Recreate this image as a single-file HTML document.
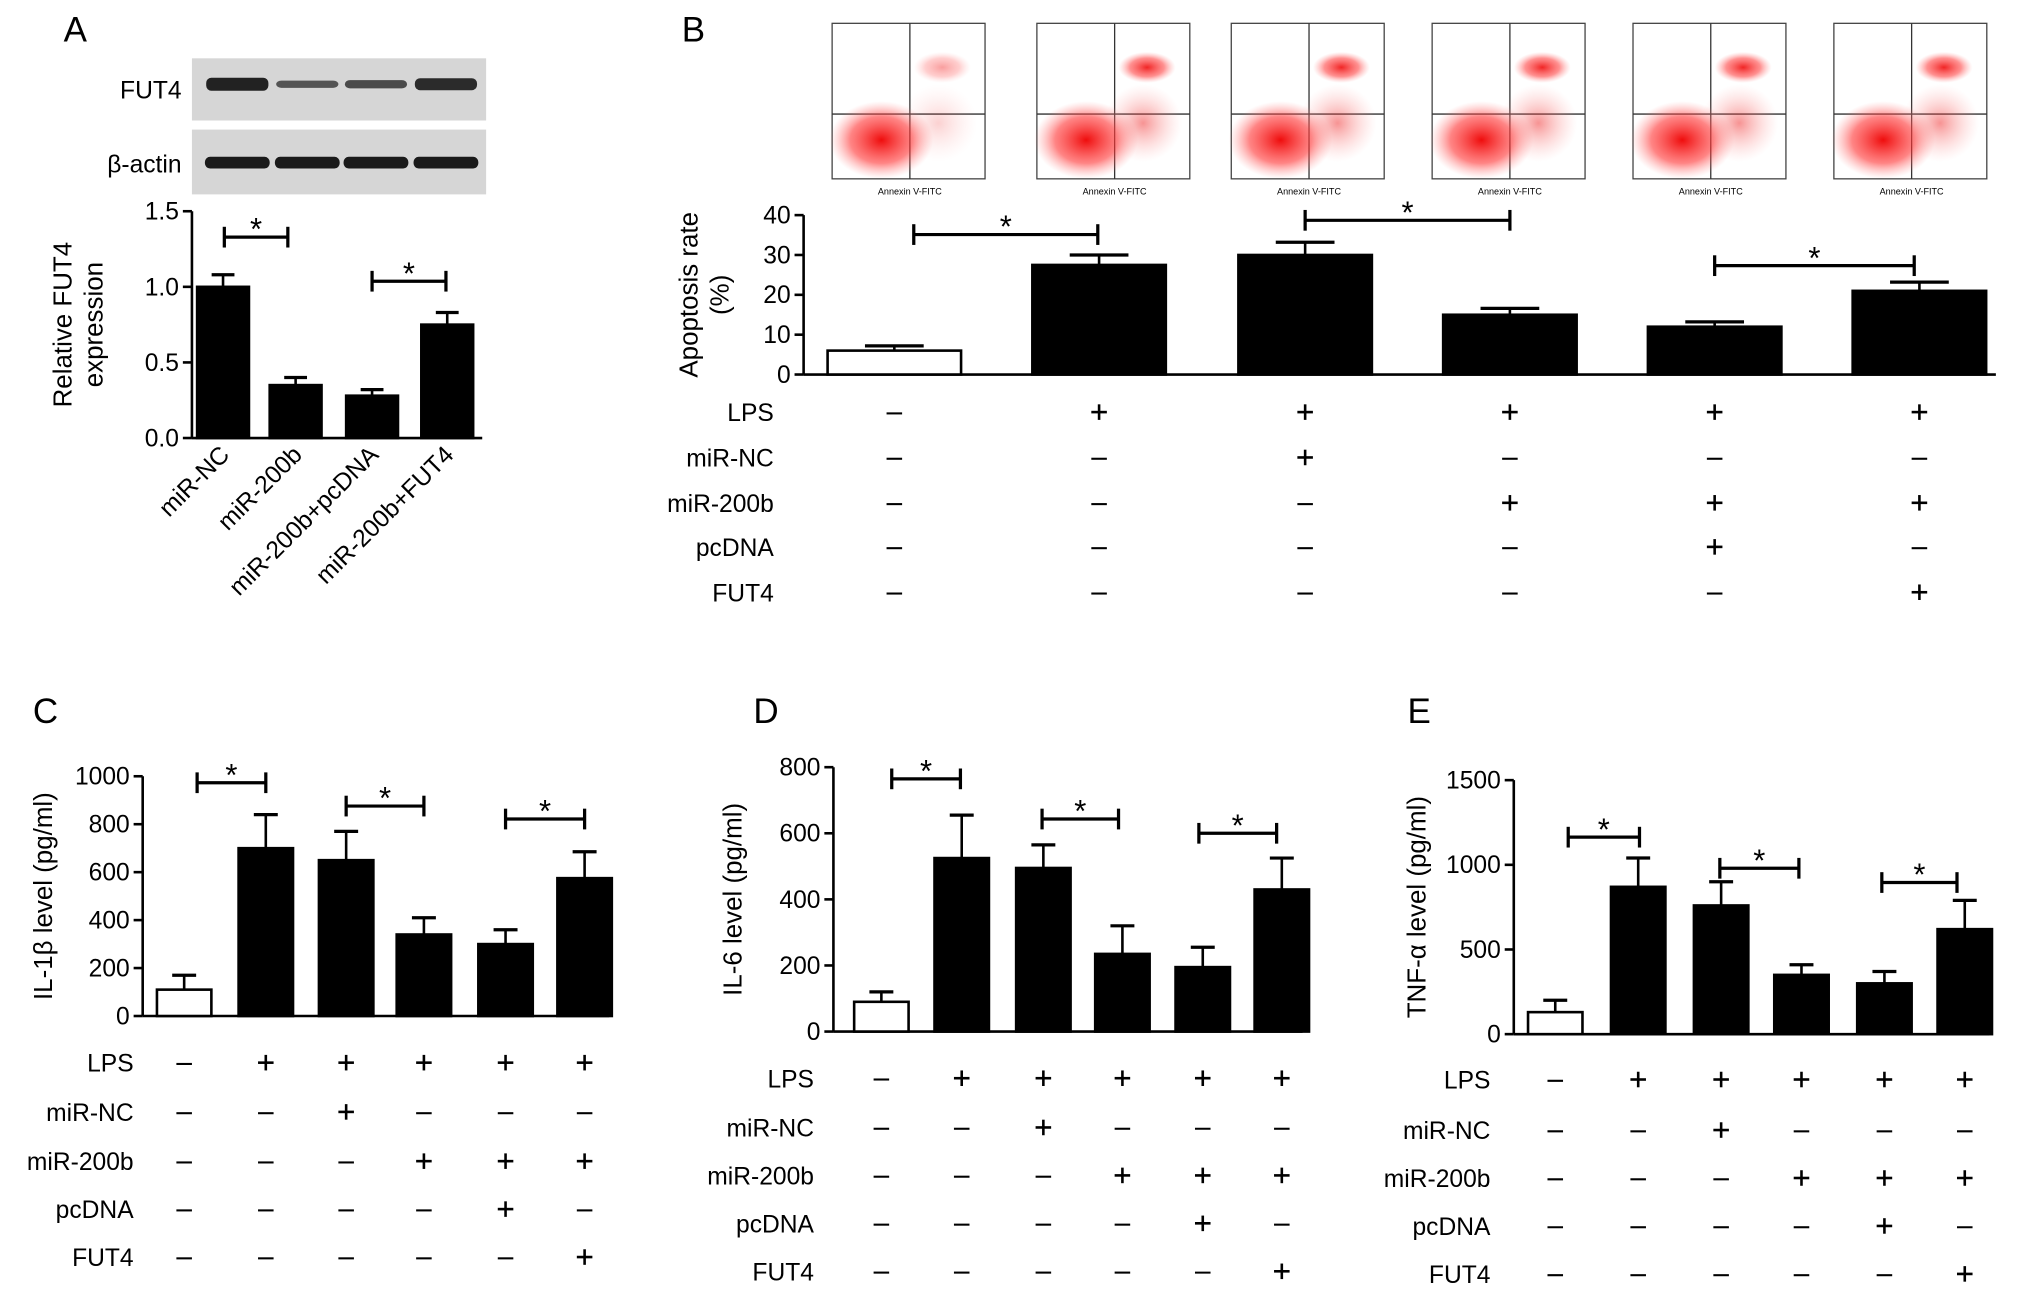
<!DOCTYPE html>
<html><head><meta charset="utf-8"><style>
html,body{margin:0;padding:0;background:#fff}
svg{display:block}
text{font-family:"Liberation Sans",sans-serif;fill:#000}
</style></head><body>
<svg id="fig" width="2031" height="1305" viewBox="0 0 1567 1007" xmlns="http://www.w3.org/2000/svg">
<defs>
<radialGradient id="blob"><stop offset="0" stop-color="#e00" stop-opacity="0.95"/><stop offset="0.6" stop-color="#f33" stop-opacity="0.6"/><stop offset="1" stop-color="#f88" stop-opacity="0"/></radialGradient>
<radialGradient id="blob2"><stop offset="0" stop-color="#e22" stop-opacity="0.7"/><stop offset="1" stop-color="#f99" stop-opacity="0"/></radialGradient>
</defs>
<g id="root"></g>
</svg>
<script>
// ---- data ----
const aCats=["miR-NC","miR-200b","miR-200b+pcDNA","miR-200b+FUT4"];
const aVals=[1.0,0.35,0.28,0.75];
const aErr=[0.08,0.05,0.04,0.08];
const aTicks=["0.0","0.5","1.0","1.5"];
const bVals=[6,27.5,30,15,12,21];
const bErr=[1.2,2.5,3.2,1.6,1.2,2.2];
const bTicks=["0","10","20","30","40"];
const cVals=[110,700,650,340,300,575];
const cErr=[60,140,120,70,60,110];
const cTicks=["0","200","400","600","800","1000"];
const dVals=[90,525,495,235,195,430];
const dErr=[30,130,70,85,60,95];
const dTicks=["0","200","400","600","800"];
const eVals=[130,870,760,350,300,620];
const eErr=[70,170,140,60,70,170];
const eTicks=["0","500","1000","1500"];
const rowNames=["LPS","miR-NC","miR-200b","pcDNA","FUT4"];
const rowSigns=[["-","+","+","+","+","+"],["-","-","+","-","-","-"],["-","-","-","+","+","+"],["-","-","-","-","+","-"],["-","-","-","-","-","+"]];

const NS="http://www.w3.org/2000/svg";
const root=document.getElementById('root');
function el(tag,attrs,parent,txt){const e=document.createElementNS(NS,tag);for(const k in attrs)e.setAttribute(k,attrs[k]);if(txt!==undefined)e.textContent=txt;(parent||root).appendChild(e);return e;}
function txt(x,y,s,size,anchor,parent,name){const t=el('text',{x:x,y:y,'font-size':size,'text-anchor':anchor||'middle'},parent,s);

return t;}

function chart(o){
 const g=el('g',{});
 
 
 const y=v=>o.y0-(v/o.max)*(o.y0-o.y1);
 // axis
 el('line',{x1:o.ax,y1:o.y1,x2:o.ax,y2:o.y0,stroke:'#000','stroke-width':2},g);
 el('line',{x1:o.ax,y1:o.y0,x2:o.xend,y2:o.y0,stroke:'#000','stroke-width':2},g);
 o.ticks.forEach((t,i)=>{const v=o.max*i/(o.ticks.length-1);const yy=y(v);
  el('line',{x1:o.ax-7,y1:yy,x2:o.ax,y2:yy,stroke:'#000','stroke-width':2},g);
  txt(o.ax-10,yy+6.5,t,19,'end',g,'y-tick-label');});
 o.vals.forEach((v,i)=>{const cx=o.cx[i];const top=y(v);const et=y(v+o.err[i]);
  el('line',{x1:cx,y1:top,x2:cx,y2:et,stroke:'#000','stroke-width':2},g);
  el('line',{x1:cx-o.bw*0.22,y1:et,x2:cx+o.bw*0.22,y2:et,stroke:'#000','stroke-width':2.5},g);
  const r=el('rect',{x:cx-o.bw/2,y:top,width:o.bw,height:o.y0-top,fill:i===0&&o.firstWhite?'#fff':'#000',stroke:'#000','stroke-width':2},g);
  
  });
 o.brackets.forEach(b=>{
  el('line',{x1:b[0],y1:b[2],x2:b[1],y2:b[2],stroke:'#000','stroke-width':2.5},g);
  el('line',{x1:b[0],y1:b[2]-8,x2:b[0],y2:b[2]+8,stroke:'#000','stroke-width':2.5},g);
  el('line',{x1:b[1],y1:b[2]-8,x2:b[1],y2:b[2]+8,stroke:'#000','stroke-width':2.5},g);
  txt((b[0]+b[1])/2,b[2]+2,'*',24,'middle',g,'significance-star');});
 // y title
 const tg=el('g',{transform:`translate(${o.tx},${(o.y0+o.y1)/2}) rotate(-90)`},g);
 o.title.forEach((s,i)=>txt(0,i*24,s,20,'middle',tg,'y-axis-title'));
 if(o.rows){o.rows.forEach((ry,r)=>{txt(o.rowX,ry+7,rowNames[r],19,'end',g,'row-label-'+rowNames[r].toLowerCase());
  rowSigns[r].forEach((s,i)=>{const cx=o.cx[i];
   if(s==='+'){el('line',{x1:cx-6,y1:ry,x2:cx+6,y2:ry,stroke:'#000','stroke-width':2},g);el('line',{x1:cx,y1:ry-6,x2:cx,y2:ry+6,stroke:'#000','stroke-width':2},g);}
   else el('line',{x1:cx-6,y1:ry+1,x2:cx+6,y2:ry+1,stroke:'#000','stroke-width':1.6},g);});});}
 return g;}

// Panel letters
[["A",58,32],["B",535,32],["C",35,558],["D",591,558],["E",1095,558]].forEach(p=>txt(p[1],p[2],p[0],27,'middle',root,'panel-label-'+p[0].toLowerCase()));

// Western blot
const wb=el('g',{});


el('rect',{x:148,y:45,width:227,height:48,fill:'#d6d6d6'},wb);
el('rect',{x:148,y:100,width:227,height:50,fill:'#d6d6d6'},wb);
txt(140,76,'FUT4',19,'end',wb,'blot-label-fut4');
txt(140,133,'β-actin',19,'end',wb,'blot-label-actin');
const bandX=[183,237,290,344], fut=[1,0.45,0.55,0.9];
bandX.forEach((x,i)=>{el('rect',{x:x-24,y:64-4*fut[i],width:48,height:8*fut[i]+2,rx:4,fill:'#222',opacity:0.5+0.5*fut[i]},wb);
 el('rect',{x:x-25,y:121,width:50,height:9,rx:4,fill:'#1a1a1a'},wb);});

// Panel A chart
chart({name:'chart-a',ax:148,y0:338,y1:163,max:1.5,xend:372,ticks:aTicks,vals:aVals,err:aErr,cx:[172,228,287,345],bw:40,firstWhite:false,
 brackets:[[173,222,183],[287,344,217]],title:['Relative FUT4','expression'],tx:55});
aCats.forEach((c,i)=>{const x=[172,228,287,345][i]+6;const t=txt(x,352,c,19,'end',root,'x-tick-label');t.setAttribute('transform',`rotate(-45 ${x} 352)`);});

// Flow plots
const fx=[642,800,950,1105,1260,1415];
fx.forEach((x,i)=>{const g=el('g',{});
 
 
 el('rect',{x:x,y:18,width:118,height:120,fill:'#fff',stroke:'#444','stroke-width':1},g);
 el('line',{x1:x+60,y1:18,x2:x+60,y2:138,stroke:'#333','stroke-width':1},g);
 el('line',{x1:x,y1:88,x2:x+118,y2:88,stroke:'#333','stroke-width':1},g);
 el('ellipse',{cx:x+38,cy:108,rx:40,ry:30,fill:'url(#blob)'},g);
 el('ellipse',{cx:x+82,cy:95,rx:30,ry:30,fill:'url(#blob2)',opacity:i===0?0.3:0.7},g);
 el('ellipse',{cx:x+85,cy:52,rx:22,ry:12,fill:'url(#blob)',opacity:i===0?0.4:0.9},g);
 txt(x+60,150,'Annexin V-FITC',7,'middle',g,'flow-x-label');});

// Panel B chart
chart({name:'chart-b',ax:620,y0:289,y1:166,max:40,xend:1540,ticks:bTicks,vals:bVals,err:bErr,cx:[690,848,1007,1165,1323,1481],bw:103,firstWhite:true,
 brackets:[[705,847,181],[1007,1165,170],[1323,1477,205]],title:['Apoptosis rate','(%)'],tx:538,rows:[318,353,388,422,457],rowX:597});

chart({name:'chart-c',ax:110,y0:784,y1:599,max:1000,xend:470,ticks:cTicks,vals:cVals,err:cErr,cx:[142,205,267,327,390,451],bw:42,firstWhite:true,
 brackets:[[152,205,604],[267,327,622],[390,451,632]],title:['IL-1β level (pg/ml)'],tx:40,rows:[820,858,896,933,970],rowX:103});

chart({name:'chart-d',ax:643,y0:796,y1:592,max:800,xend:1005,ticks:dTicks,vals:dVals,err:dErr,cx:[680,742,805,866,928,989],bw:42,firstWhite:true,
 brackets:[[688,741,601],[804,863,632],[925,985,643]],title:['IL-6 level (pg/ml)'],tx:572,rows:[832,870,907,944,981],rowX:628});

chart({name:'chart-e',ax:1168,y0:798,y1:602,max:1500,xend:1535,ticks:eTicks,vals:eVals,err:eErr,cx:[1200,1264,1328,1390,1454,1516],bw:42,firstWhite:true,
 brackets:[[1210,1265,646],[1327,1388,670],[1452,1510,681]],title:['TNF-α level (pg/ml)'],tx:1100,rows:[833,872,909,946,983],rowX:1150});
</script>
</body></html>
